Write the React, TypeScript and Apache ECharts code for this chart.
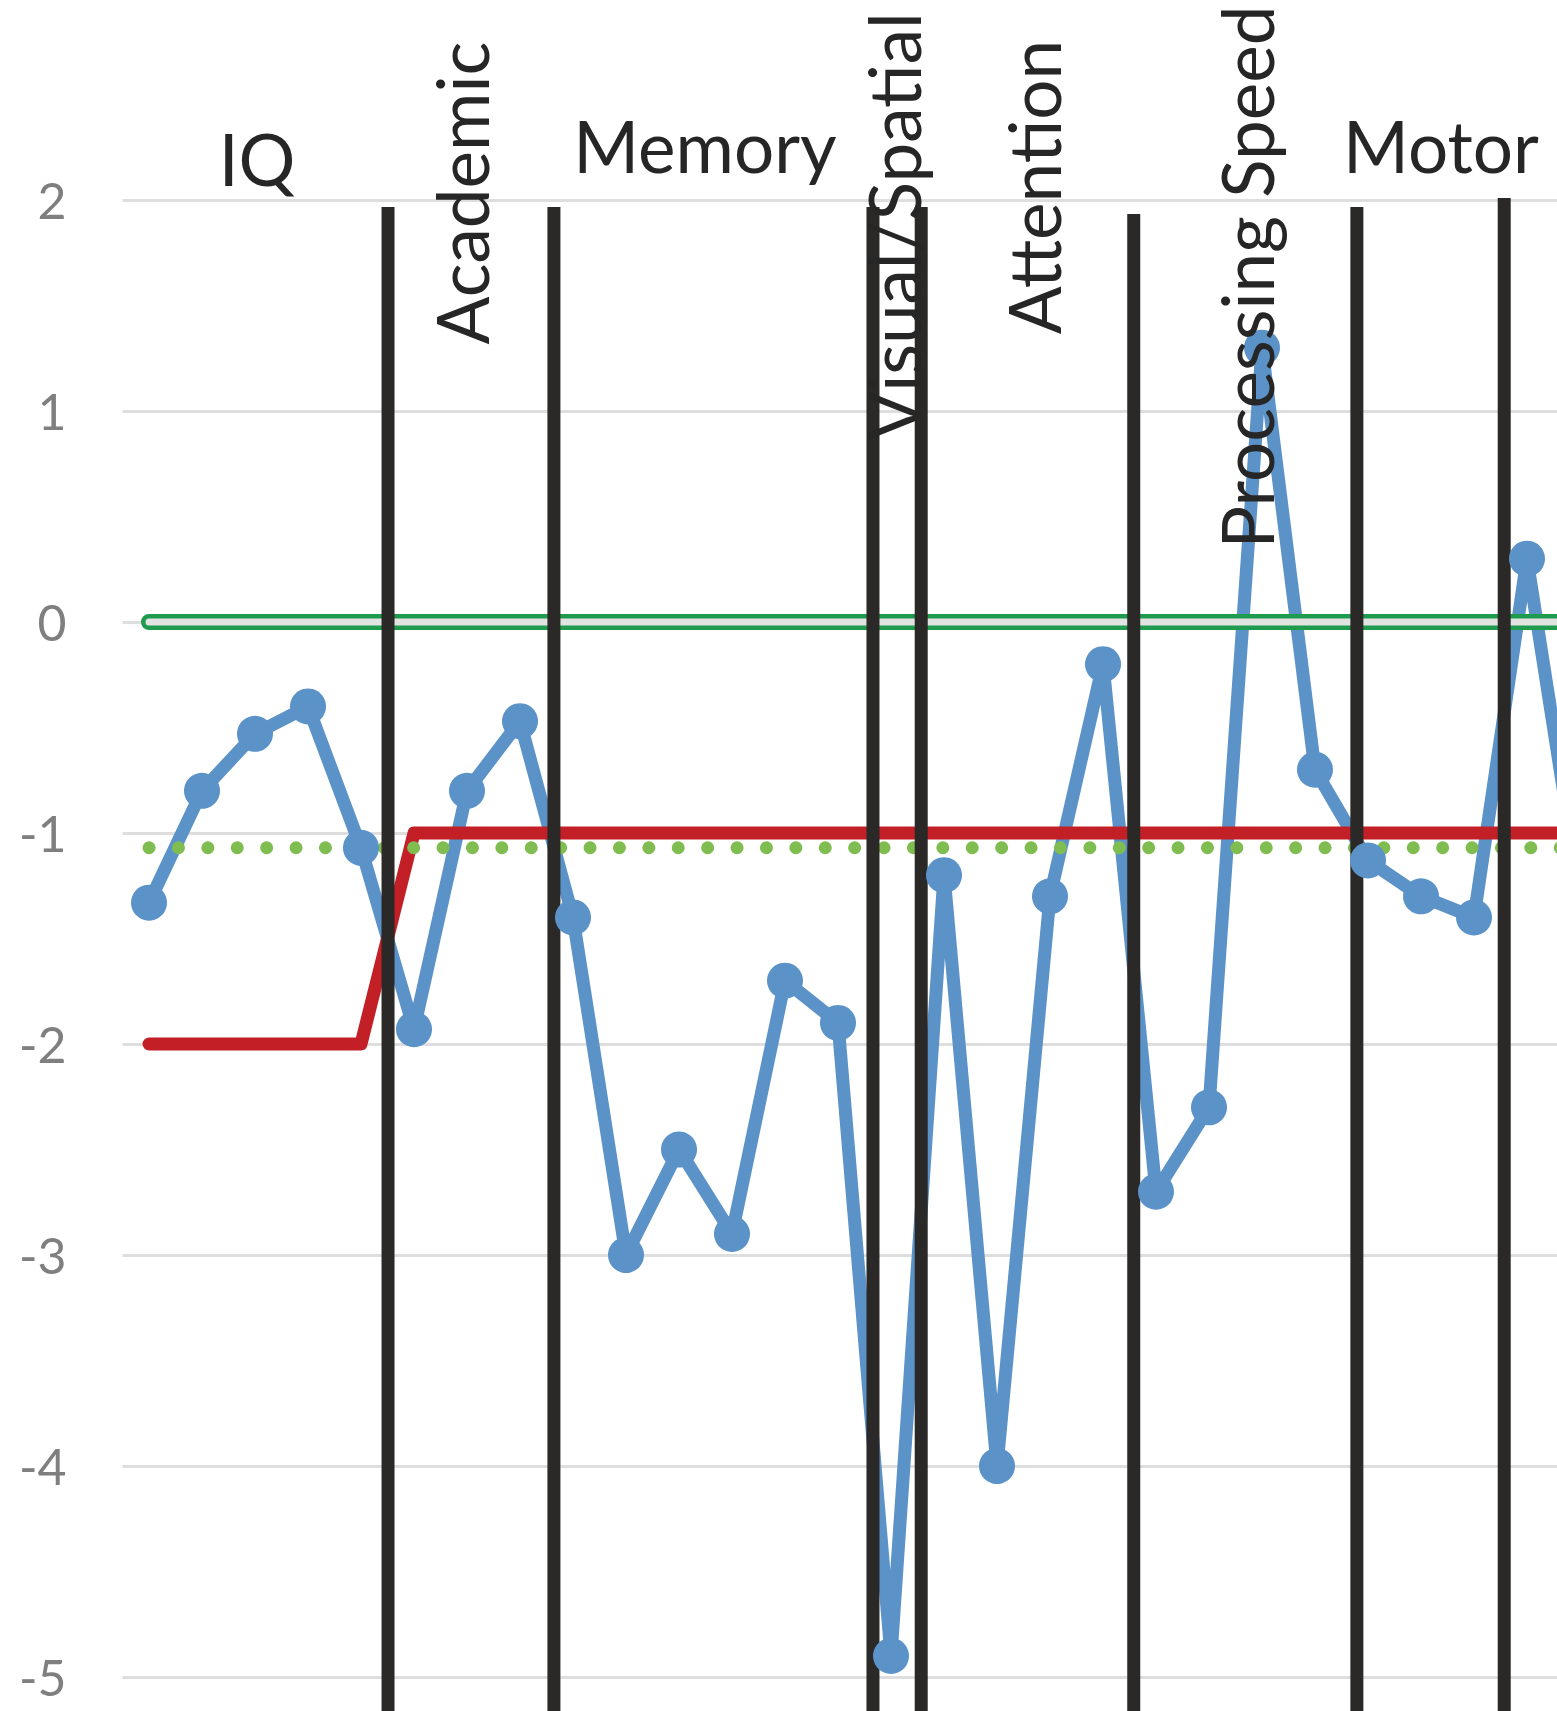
import React, { useEffect, useRef } from "react";
import * as echarts from "echarts";

// ---- data ----
const scores = [
  -1.33, -0.8, -0.53, -0.4, -1.07, -1.93, -0.8, -0.47, -1.4, -3.0, -2.5, -2.9,
  -1.7, -1.9, -4.9, -1.2, -4.0, -1.3, -0.2, -2.7, -2.3, 1.3, -0.7, -1.13, -1.3,
  -1.4, 0.3, -1.3,
];
const cutoff = [
  -2, -2, -2, -2, -2, -1, -1, -1, -1, -1, -1, -1, -1, -1, -1, -1, -1, -1, -1, -1,
  -1, -1, -1, -1, -1, -1, -1, -1,
];
const normMean = 0;
const groupMean = -1.07;
const dividerX = [5.51, 8.64, 14.66, 15.57, 19.58, 23.79, 26.57];
const dividerTop = [1.967, 1.967, 1.967, 1.967, 1.934, 1.967, 2.01];
const yMin = -6;
const yMax = 2;
const yStep = 1;
const domainNames = ["IQ", "Academic", "Memory", "Visual/Spatial", "Attention", "Processing Speed", "Motor"];

// ---- layout (pixels) ----
const W = 1557;
const H = 1711;
const unitX = 53;
const unitY = 211;
const gridLeft = 122.5;
const gridTop = 200;
const xMin = 0.5;
const xMax = 28.5;
const labelLayout = [
  { x: 257, y: 158, rot: false },
  { x: 461, y: 193, rot: true },
  { x: 705, y: 145, rot: false },
  { x: 893, y: 226, rot: true },
  { x: 1033, y: 187, rot: true },
  { x: 1246, y: 277, rot: true },
  { x: 1441, y: 145, rot: false },
];

const FONT = "Lato, 'Open Sans', sans-serif";

export default function App() {
  const ref = useRef<HTMLDivElement>(null);
  useEffect(() => {
    if (!ref.current) return;
    const chart = echarts.init(ref.current, undefined, { renderer: "svg" });
    const idx = scores.map((_, i) => i + 1);
    const pairs = (vals: number[]) => vals.map((v, i) => [idx[i], v]);
    const flat = (v: number) => idx.map((x) => [x, v]);
    const gridRight = W - (gridLeft + (xMax - xMin) * unitX);
    const gridBottom = H - (gridTop + (yMax - yMin) * unitY);

    const dividerSeries = dividerX.map((x, i) => ({
      type: "line",
      data: [
        [x, dividerTop[i]],
        [x, yMin],
      ],
      symbol: "none",
      silent: true,
      lineStyle: { color: "#2a2927", width: 13, cap: "butt" },
    }));

    const option: any = {
      animation: false,
      backgroundColor: "#ffffff",
      grid: {
        left: gridLeft,
        top: gridTop,
        right: gridRight,
        bottom: gridBottom,
        containLabel: false,
        outerBoundsMode: "none",
      },
      xAxis: {
        type: "value",
        min: xMin,
        max: xMax,
        show: false,
      },
      yAxis: {
        type: "value",
        min: yMin,
        max: yMax,
        interval: yStep,
        axisLine: { show: false },
        axisTick: { show: false },
        axisLabel: {
          color: "#7f7f7f",
          fontSize: 50,
          fontFamily: FONT,
          margin: 56,
          showMinLabel: false,
        },
        splitLine: { lineStyle: { color: "#dedede", width: 3 } },
      },
      series: [
        {
          type: "line",
          data: pairs(scores),
          symbol: "circle",
          symbolSize: 36,
          showAllSymbol: true,
          silent: true,
          itemStyle: { color: "#5b93c9" },
          lineStyle: { color: "#5b93c9", width: 13, join: "round" },
        },
        {
          type: "line",
          data: pairs(cutoff),
          symbol: "none",
          silent: true,
          lineStyle: { color: "#c22026", width: 13, cap: "round", join: "round" },
        },
        {
          type: "line",
          data: flat(normMean),
          symbol: "none",
          silent: true,
          lineStyle: { color: "#1e9b4c", width: 16, cap: "round" },
        },
        {
          type: "line",
          data: flat(normMean),
          symbol: "none",
          silent: true,
          lineStyle: { color: "#e2e4e2", width: 7, cap: "round" },
        },
        {
          type: "line",
          data: flat(groupMean),
          symbol: "none",
          silent: true,
          lineStyle: { color: "#80bd50", width: 13, cap: "round", type: [0.1, 29.3] },
        },
        ...dividerSeries,
      ],
      graphic: domainNames.map((name, i) => ({
        type: "text",
        x: labelLayout[i].x,
        y: labelLayout[i].y,
        rotation: labelLayout[i].rot ? Math.PI / 2 : 0,
        z: 100,
        silent: true,
        style: {
          text: name,
          fill: "#262626",
          fontSize: 71,
          fontFamily: FONT,
          align: "center",
          verticalAlign: "middle",
        },
      })),
    };
    chart.setOption(option);
    return () => chart.dispose();
  }, []);
  return (
    <div
      ref={ref}
      style={{ position: "absolute", left: 0, top: 0, width: W, height: H, background: "#fff" }}
    />
  );
}
